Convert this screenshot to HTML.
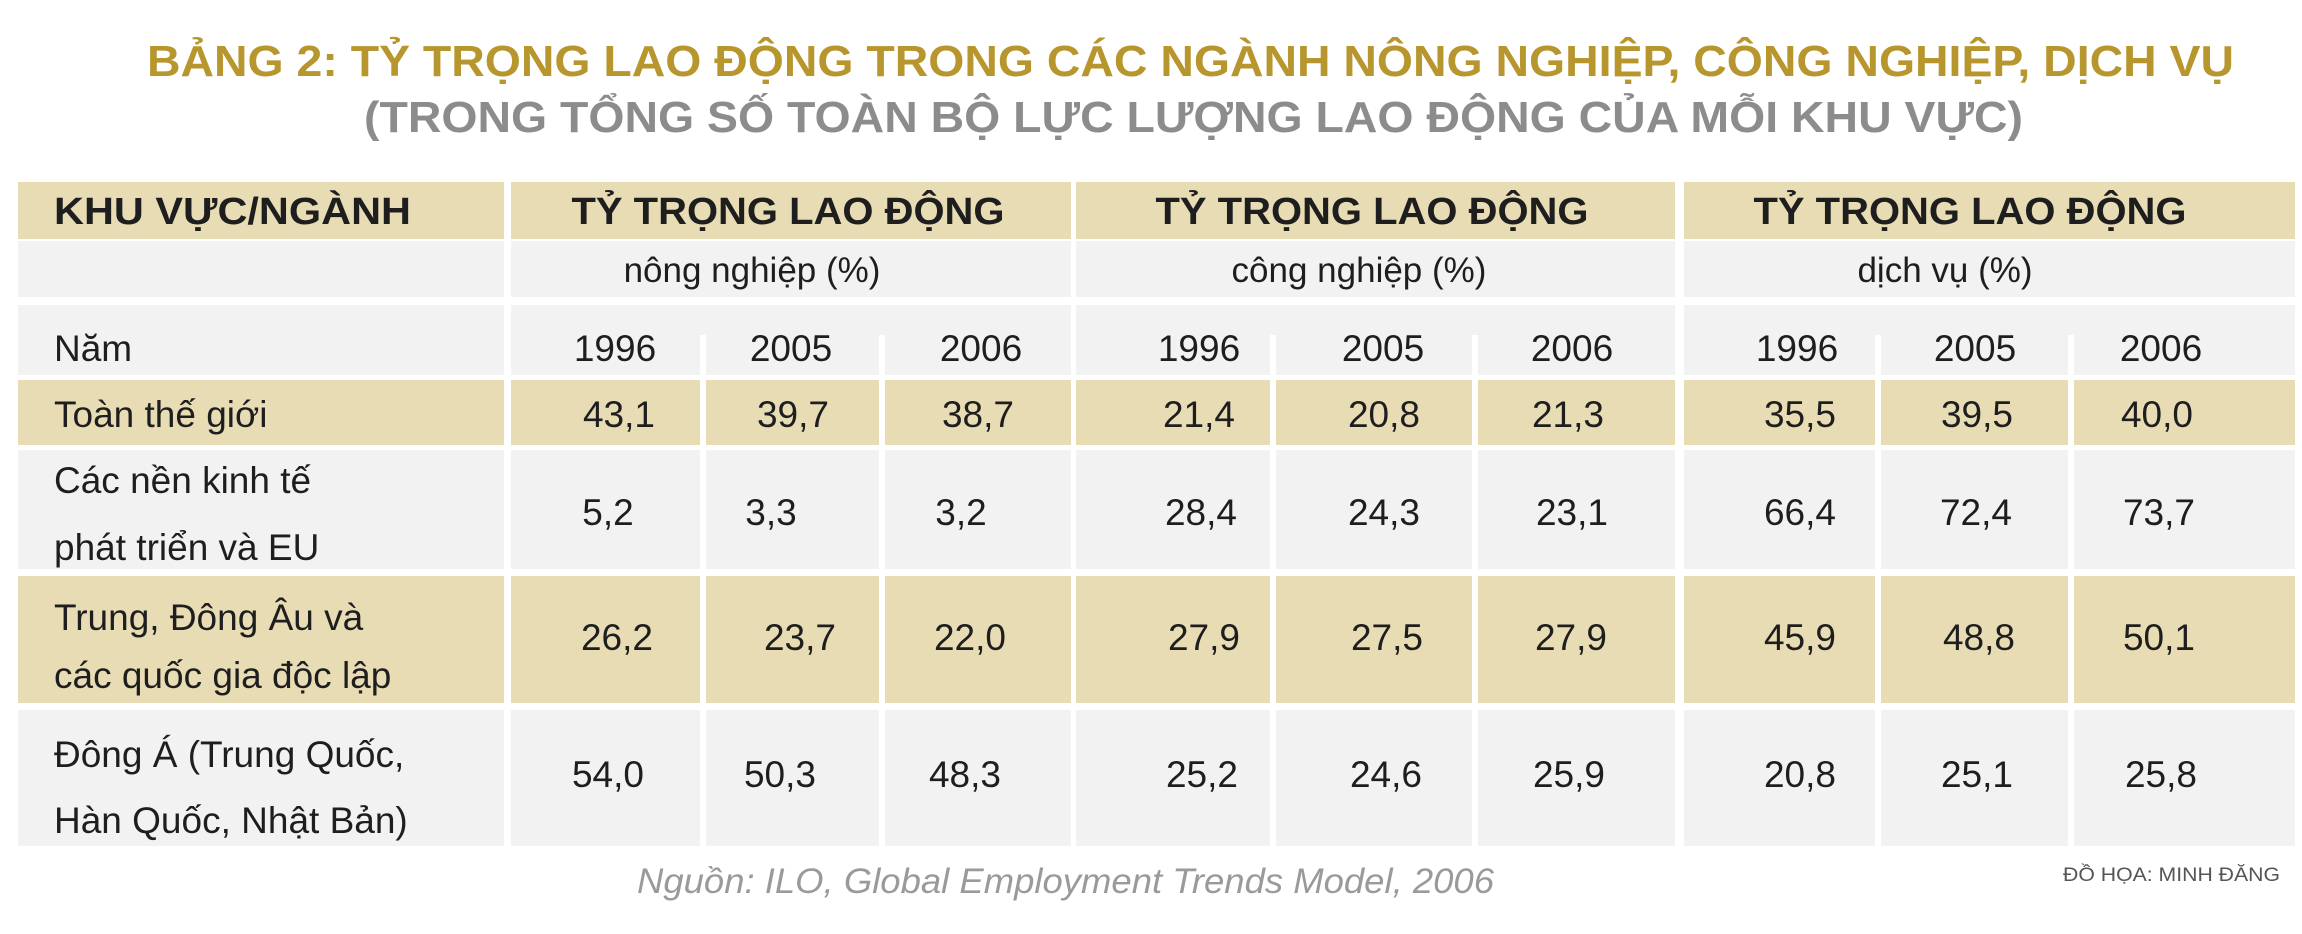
<!DOCTYPE html>
<html><head><meta charset="utf-8"><style>
html,body{margin:0;padding:0;background:#fff;}
svg{display:block;}
text{font-family:"Liberation Sans",sans-serif;}
.t{font-size:37px;fill:#1e1e1e;}
.h{font-size:38px;font-weight:bold;fill:#1e1e1e;}
</style></head><body>
<svg width="2302" height="934" viewBox="0 0 2302 934" xmlns="http://www.w3.org/2000/svg">
<rect width="2302" height="934" fill="#fff"/>
<text x="147" y="76" font-size="44" font-weight="bold" fill="#b8962e" textLength="2087" lengthAdjust="spacingAndGlyphs">BẢNG 2: TỶ TRỌNG LAO ĐỘNG TRONG CÁC NGÀNH NÔNG NGHIỆP, CÔNG NGHIỆP, DỊCH VỤ</text>
<text x="364" y="132" font-size="44" font-weight="bold" fill="#8c8c8c" textLength="1659" lengthAdjust="spacingAndGlyphs">(TRONG TỔNG SỐ TOÀN BỘ LỰC LƯỢNG LAO ĐỘNG CỦA MỖI KHU VỰC)</text>

<!-- header row -->
<g fill="#e8dcb5">
<rect x="18" y="182" width="486" height="57"/>
<rect x="511" y="182" width="560" height="57"/>
<rect x="1076" y="182" width="599" height="57"/>
<rect x="1684" y="182" width="611" height="57"/>
</g>
<g fill="#f2f2f2">
<rect x="18" y="241" width="486" height="56"/>
<rect x="511" y="241" width="560" height="56"/>
<rect x="1076" y="241" width="599" height="56"/>
<rect x="1684" y="241" width="611" height="56"/>
<!-- year row -->
<rect x="18" y="305" width="486" height="70"/>
<rect x="511" y="305" width="560" height="70"/>
<rect x="1076" y="305" width="599" height="70"/>
<rect x="1684" y="305" width="611" height="70"/>
</g>
<g fill="#fff">
<rect x="700" y="335" width="6" height="40"/><rect x="879" y="335" width="6" height="40"/>
<rect x="1270" y="335" width="6" height="40"/><rect x="1472" y="335" width="6" height="40"/>
<rect x="1875" y="335" width="6" height="40"/><rect x="2068" y="335" width="6" height="40"/>
</g>
<!-- data rows -->
<g id="rows">
<g fill="#e8dcb5">
<rect x="18" y="380" width="486" height="65"/>
<rect x="511" y="380" width="189" height="65"/><rect x="706" y="380" width="173" height="65"/><rect x="885" y="380" width="186" height="65"/>
<rect x="1076" y="380" width="194" height="65"/><rect x="1276" y="380" width="196" height="65"/><rect x="1478" y="380" width="197" height="65"/>
<rect x="1684" y="380" width="191" height="65"/><rect x="1881" y="380" width="187" height="65"/><rect x="2074" y="380" width="221" height="65"/>
</g>
<g fill="#f2f2f2">
<rect x="18" y="450" width="486" height="119"/>
<rect x="511" y="450" width="189" height="119"/><rect x="706" y="450" width="173" height="119"/><rect x="885" y="450" width="186" height="119"/>
<rect x="1076" y="450" width="194" height="119"/><rect x="1276" y="450" width="196" height="119"/><rect x="1478" y="450" width="197" height="119"/>
<rect x="1684" y="450" width="191" height="119"/><rect x="1881" y="450" width="187" height="119"/><rect x="2074" y="450" width="221" height="119"/>
</g>
<g fill="#e8dcb5">
<rect x="18" y="576" width="486" height="127"/>
<rect x="511" y="576" width="189" height="127"/><rect x="706" y="576" width="173" height="127"/><rect x="885" y="576" width="186" height="127"/>
<rect x="1076" y="576" width="194" height="127"/><rect x="1276" y="576" width="196" height="127"/><rect x="1478" y="576" width="197" height="127"/>
<rect x="1684" y="576" width="191" height="127"/><rect x="1881" y="576" width="187" height="127"/><rect x="2074" y="576" width="221" height="127"/>
</g>
<g fill="#f2f2f2">
<rect x="18" y="710" width="486" height="136"/>
<rect x="511" y="710" width="189" height="136"/><rect x="706" y="710" width="173" height="136"/><rect x="885" y="710" width="186" height="136"/>
<rect x="1076" y="710" width="194" height="136"/><rect x="1276" y="710" width="196" height="136"/><rect x="1478" y="710" width="197" height="136"/>
<rect x="1684" y="710" width="191" height="136"/><rect x="1881" y="710" width="187" height="136"/><rect x="2074" y="710" width="221" height="136"/>
</g>
</g>

<!-- headers -->
<text class="h" x="54" y="224" textLength="357" lengthAdjust="spacingAndGlyphs">KHU VỰC/NGÀNH</text>
<text class="h" x="788" y="224" text-anchor="middle" textLength="433" lengthAdjust="spacingAndGlyphs">TỶ TRỌNG LAO ĐỘNG</text>
<text class="h" x="1372" y="224" text-anchor="middle" textLength="433" lengthAdjust="spacingAndGlyphs">TỶ TRỌNG LAO ĐỘNG</text>
<text class="h" x="1970" y="224" text-anchor="middle" textLength="433" lengthAdjust="spacingAndGlyphs">TỶ TRỌNG LAO ĐỘNG</text>
<g class="t" text-anchor="middle" style="font-size:35px">
<text x="752" y="282">nông nghiệp (%)</text>
<text x="1359" y="282">công nghiệp (%)</text>
<text x="1945" y="282">dịch vụ (%)</text>
</g>

<g class="t">
<text x="54" y="361">Năm</text>
<text x="54" y="427">Toàn thế giới</text>
<text x="54" y="493">Các nền kinh tế</text>
<text x="54" y="560">phát triển và EU</text>
<text x="54" y="630">Trung, Đông Âu và</text>
<text x="54" y="688">các quốc gia độc lập</text>
<text x="54" y="767">Đông Á (Trung Quốc,</text>
<text x="54" y="833">Hàn Quốc, Nhật Bản)</text>
</g>
<g class="t" text-anchor="middle">
<text x="615" y="361">1996</text><text x="791" y="361">2005</text><text x="981" y="361">2006</text>
<text x="1199" y="361">1996</text><text x="1383" y="361">2005</text><text x="1572" y="361">2006</text>
<text x="1797" y="361">1996</text><text x="1975" y="361">2005</text><text x="2161" y="361">2006</text>

<text x="619" y="427">43,1</text><text x="793" y="427">39,7</text><text x="978" y="427">38,7</text>
<text x="1199" y="427">21,4</text><text x="1384" y="427">20,8</text><text x="1568" y="427">21,3</text>
<text x="1800" y="427">35,5</text><text x="1977" y="427">39,5</text><text x="2157" y="427">40,0</text>

<text x="608" y="525">5,2</text><text x="771" y="525">3,3</text><text x="961" y="525">3,2</text>
<text x="1201" y="525">28,4</text><text x="1384" y="525">24,3</text><text x="1572" y="525">23,1</text>
<text x="1800" y="525">66,4</text><text x="1976" y="525">72,4</text><text x="2159" y="525">73,7</text>

<text x="617" y="650">26,2</text><text x="800" y="650">23,7</text><text x="970" y="650">22,0</text>
<text x="1204" y="650">27,9</text><text x="1387" y="650">27,5</text><text x="1571" y="650">27,9</text>
<text x="1800" y="650">45,9</text><text x="1979" y="650">48,8</text><text x="2159" y="650">50,1</text>

<text x="608" y="787">54,0</text><text x="780" y="787">50,3</text><text x="965" y="787">48,3</text>
<text x="1202" y="787">25,2</text><text x="1386" y="787">24,6</text><text x="1569" y="787">25,9</text>
<text x="1800" y="787">20,8</text><text x="1977" y="787">25,1</text><text x="2161" y="787">25,8</text>
</g>

<text x="637" y="893" font-size="35" font-style="italic" fill="#9a9a9a" textLength="857" lengthAdjust="spacingAndGlyphs">Nguồn: ILO, Global Employment Trends Model, 2006</text>
<text x="2063" y="881" font-size="19" fill="#555" textLength="217" lengthAdjust="spacingAndGlyphs">ĐỒ HỌA:  MINH ĐĂNG</text>
</svg>
</body></html>
